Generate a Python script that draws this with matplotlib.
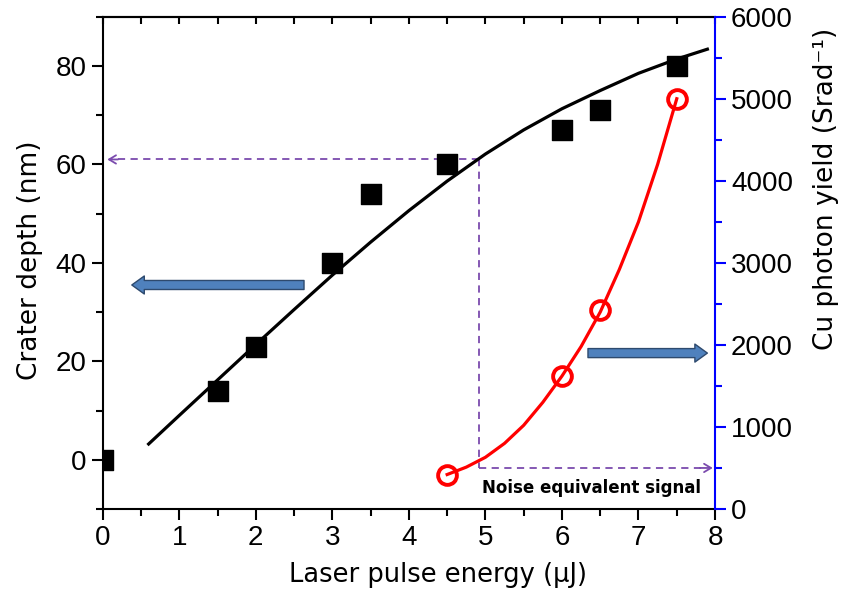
import matplotlib
matplotlib.use("Agg")
import matplotlib.pyplot as plt
from matplotlib.ticker import MultipleLocator

# crater depth data (left axis)
energy_sq = [0, 1.5, 2, 3, 3.5, 4.5, 6, 6.5, 7.5]
depth_sq = [0, 14, 23, 40, 54, 60, 67, 71, 80]
# fitted curve
energy_fit = [0.6, 1.0, 1.5, 2.0, 2.5, 3.0, 3.5, 4.0, 4.5, 5.0, 5.5, 6.0, 6.5, 7.0, 7.5, 7.9]
depth_fit = [3.2, 9.0, 16.2, 23.4, 30.5, 37.5, 44.2, 50.6, 56.6, 62.1, 67.0, 71.3, 75.0, 78.5, 81.4, 83.4]

# Cu photon yield (right axis)
energy_circ = [4.5, 6, 6.5, 7.5]
yield_circ = [420, 1620, 2420, 5000]
energy_red = [4.5, 4.75, 5.0, 5.25, 5.5, 5.75, 6.0, 6.25, 6.5, 6.75, 7.0, 7.25, 7.5]
yield_red = [420, 510, 630, 800, 1020, 1300, 1620, 1980, 2400, 2920, 3500, 4200, 5000]

# guide lines
guide_x = 4.92
guide_depth = 61
noise_level = 500

purple = '#7B4BAE'
arrow_blue = '#4F81BD'
tick_font = 'Liberation Sans'

fig = plt.figure(figsize=(8.44, 5.96), dpi=100)
ax = fig.add_axes([0.1217, 0.146, 0.7255, 0.826])
ax2 = ax.twinx()

ax.plot(energy_fit, depth_fit, color='black', lw=2.3, zorder=3)
ax.scatter(energy_sq, depth_sq, marker='s', color='black', s=15 ** 2, zorder=4, clip_on=True)

ax2.plot(energy_red, yield_red, color='red', lw=2.3, zorder=3)
ax2.plot(energy_circ, yield_circ, 'o', mfc='none', mec='red', ms=13.5, mew=2.8, zorder=4)

ax.set_xlim(0, 8)
ax.set_ylim(-10, 90)
ax2.set_ylim(0, 6000)

# dashed guides
ax.plot([guide_x, 0.1], [guide_depth, guide_depth], ls=(0, (4, 3)), color=purple, lw=1.3)
ax.annotate('', xy=(0.06, guide_depth), xytext=(0.2, guide_depth),
            arrowprops=dict(arrowstyle='->,head_length=0.5,head_width=0.3', color=purple, lw=1.3,
                            shrinkA=0, shrinkB=0))
fig.canvas.draw()
low = ax.transData.inverted().transform(ax2.transData.transform((guide_x, noise_level)))[1]
ax.plot([guide_x, guide_x], [guide_depth, low], ls=(0, (4, 3)), color=purple, lw=1.3)
ax2.plot([guide_x, 7.85], [noise_level, noise_level], ls=(0, (4, 3)), color=purple, lw=1.3)
ax2.annotate('', xy=(7.97, noise_level), xytext=(7.8, noise_level),
             arrowprops=dict(arrowstyle='->,head_length=0.5,head_width=0.3', color=purple, lw=1.3,
                             shrinkA=0, shrinkB=0))
ax2.text(4.95, 255, 'Noise equivalent signal', fontsize=12, fontweight='bold',
         family='DejaVu Sans', va='center', ha='left')

# blue block arrows
style = 'simple,head_length=0.9,head_width=1.3,tail_width=0.65'
ax.annotate('', xy=(0.38, 35.5), xytext=(2.63, 35.5),
            arrowprops=dict(arrowstyle=style, fc=arrow_blue, ec='#2E4A6E', lw=1,
                            mutation_scale=10, shrinkA=0, shrinkB=0))
ax2.annotate('', xy=(7.9, 1900), xytext=(6.34, 1900),
             arrowprops=dict(arrowstyle=style, fc=arrow_blue, ec='#2E4A6E', lw=1,
                             mutation_scale=10, shrinkA=0, shrinkB=0))

# ticks and spines
ax.xaxis.set_major_locator(MultipleLocator(1))
ax.xaxis.set_minor_locator(MultipleLocator(0.5))
ax.yaxis.set_major_locator(MultipleLocator(20))
ax.yaxis.set_minor_locator(MultipleLocator(10))
ax.tick_params(which='major', direction='out', length=8, width=1.5, labelsize=20)
ax.tick_params(which='minor', direction='out', length=5, width=1.5)
for lab in ax.get_xticklabels() + ax.get_yticklabels():
    lab.set_family(tick_font)

ax2.yaxis.set_major_locator(MultipleLocator(1000))
ax2.yaxis.set_minor_locator(MultipleLocator(500))
ax2.tick_params(which='major', direction='out', length=8, width=1.5, color='blue', labelsize=20)
ax2.tick_params(which='minor', direction='out', length=5, width=1.5, color='blue')
for lab in ax2.get_yticklabels():
    lab.set_family(tick_font)

top = ax.secondary_xaxis('top')
top.xaxis.set_major_locator(MultipleLocator(0.5))
top.tick_params(direction='in', length=5, width=1.5, labeltop=False)
top.spines['top'].set_linewidth(1.5)

for s in ['left', 'bottom', 'top']:
    ax.spines[s].set_linewidth(1.5)
ax.spines['right'].set_visible(False)
ax2.spines['left'].set_visible(False)
ax2.spines['top'].set_visible(False)
ax2.spines['bottom'].set_visible(False)
ax2.spines['right'].set_color('blue')
ax2.spines['right'].set_linewidth(1.5)

ax.set_xlabel('Laser pulse energy (μJ)', fontsize=18.5, family='DejaVu Sans')
ax.set_ylabel('Crater depth (nm)', fontsize=19, family='DejaVu Sans')
ax2.set_ylabel('Cu photon yield (Srad⁻¹)', fontsize=19, family='DejaVu Sans')
ax.xaxis.set_label_coords(0.548, -0.108)
ax.yaxis.set_label_coords(-0.098, 0.506)
ax2.yaxis.set_label_coords(1.16, 0.65)

fig.savefig('out.png', dpi=100)
